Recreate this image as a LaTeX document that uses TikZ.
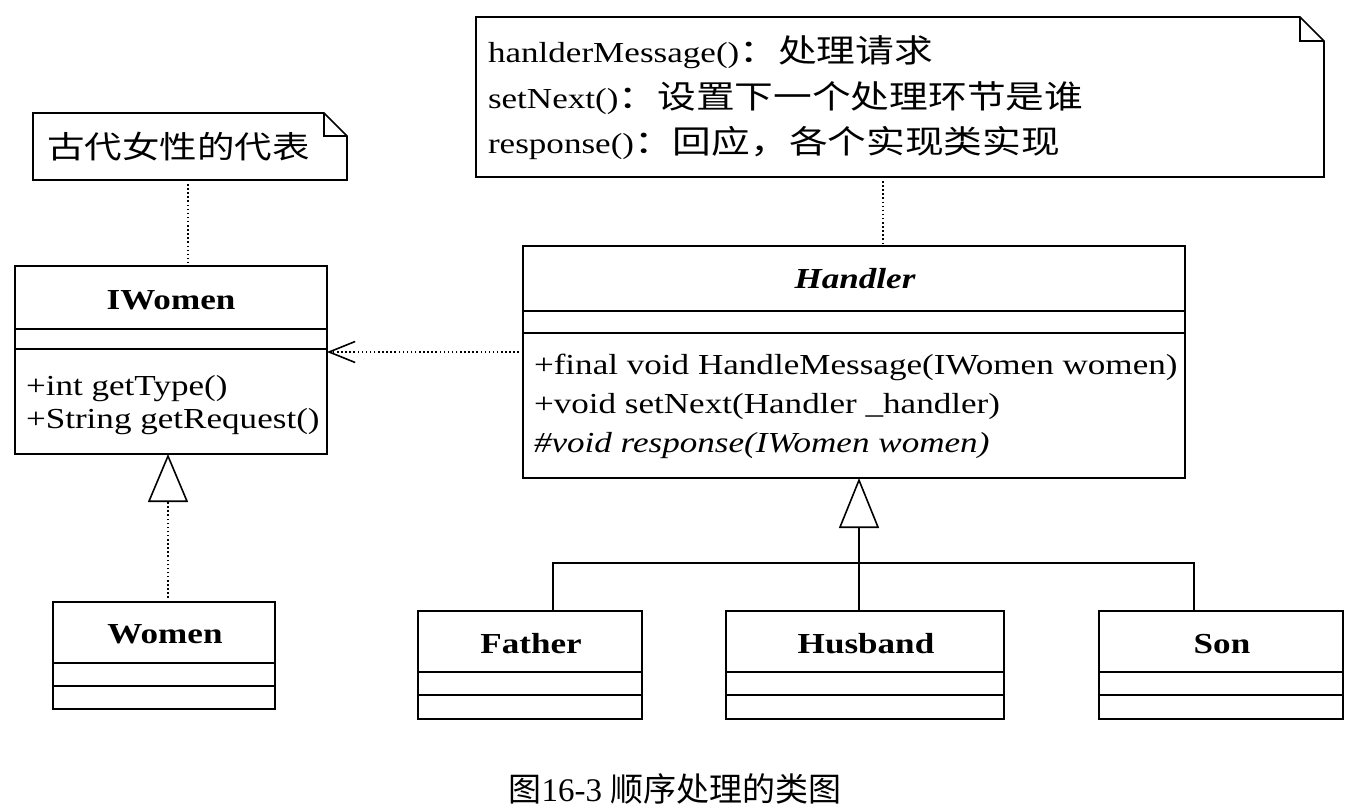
\documentclass[tikz,border=0pt]{standalone}
\usepackage{fontspec}
\setmainfont[FakeStretch=1.21]{Liberation Serif}
\newfontfamily\cjk[FakeStretch=1.21]{Noto Sans CJK SC}
\newfontfamily\capcjk{Noto Sans CJK SC}
\newfontfamily\capserif{Liberation Serif}
\usetikzlibrary{arrows.meta}

% Chinese text inside the diagram
\newcommand{\zh}[1]{{\fontsize{31}{34}\cjk #1}}
\newcommand{\zhn}[1]{{\fontsize{32}{34}\cjk #1}}

\tikzset{
  umlline/.style={line width=1.6pt, draw=black},
  classbox/.style={draw=black, line width=1.6pt, rectangle, inner sep=0pt, outer sep=0pt, anchor=north west},
  noteframe/.style={inner sep=0pt, outer sep=0pt, anchor=north west},
  txt/.style={inner sep=0pt, outer sep=0pt, font=\fontsize{29}{34}\selectfont},
  titletxt/.style={txt, font=\fontsize{29}{34}\selectfont\bfseries},
  dottedlink/.style={line width=1.5pt, dash pattern=on 1.5pt off 2.6pt},
  hollowtri/.style={-{Triangle[open, length=#1, width=40pt, line width=1.6pt]}},
  openbarb/.style={-{Straight Barb[length=26pt, width=21pt, line width=1.6pt]}}
}

% class box: name, x1, y1, x2, y2, first separator, second separator
\newcommand{\umlbox}[7]{%
  \node[classbox, minimum width={#4-#2}, minimum height={#5-#3}] (#1) at (#2,#3) {};
  \draw[umlline] (#2,#6) -- (#4,#6);
  \draw[umlline] (#2,#7) -- (#4,#7);
}

% note with folded corner: name, x1, y1, x2, y2, fold size
\newcommand{\umlnote}[6]{%
  \node[noteframe, minimum width={#4-#2}, minimum height={#5-#3}] (#1) at (#2,#3) {};
  \draw[umlline, line join=miter] (#2,#3) -- ({#4-#6},#3) -- (#4,{#3+#6}) -- (#4,#5) -- (#2,#5) -- cycle;
  \draw[umlline] ({#4-#6},#3) -- ({#4-#6},{#3+#6}) -- (#4,{#3+#6});
}

\begin{document}
\begin{tikzpicture}[x=1pt, y=-1pt]
\useasboundingbox (0,0) rectangle (1360,810);

% ---- notes ----
\umlnote{note1}{33}{113}{347}{180}{23}
\node[inner sep=0pt, anchor=west] (note1txt) at (47,147) {\zh{古代女性的代表}};

\umlnote{note2}{476}{17}{1324}{177}{24}
\node[txt, anchor=base west] (n2l1) at (488,63) {hanlderMessage()\zhn{：处理请求}};
\node[txt, anchor=base west] (n2l2) at (488,109) {setNext()\zhn{：设置下一个处理环节是谁}};
\node[txt, anchor=base west] (n2l3) at (488,154) {response()\zhn{：回应，各个实现类实现}};

% ---- IWomen / Women ----
\umlbox{iwomen}{15}{266}{327}{454}{329}{349}
\node[titletxt, anchor=base] (iwomentitle) at (171,309) {IWomen};
\node[txt, anchor=base west] (iwm1) at (26,395) {+int getType()};
\node[txt, anchor=base west] (iwm2) at (26,428) {+String getRequest()};

\umlbox{women}{53}{602}{275}{709}{663}{686}
\node[titletxt, anchor=base] (womentitle) at (165,643) {Women};

% ---- Handler ----
\umlbox{handler}{523}{246}{1185}{478}{311}{333}
\node[titletxt, font=\fontsize{29}{34}\selectfont\bfseries\itshape, anchor=base] (handlertitle) at (855,289) {Handler};
\node[txt, anchor=base west] (hm1) at (534,374) {+final void HandleMessage(IWomen women)};
\node[txt, anchor=base west] (hm2) at (534,413) {+void setNext(Handler \_handler)};
\node[txt, font=\fontsize{29}{34}\selectfont\itshape, anchor=base west] (hm3) at (534,452) {\#void response(IWomen women)};

% ---- concrete handlers ----
\umlbox{father}{418}{611}{642}{719}{672}{695}
\node[titletxt, anchor=base] (fathertitle) at (531,653) {Father};
\umlbox{husband}{726}{611}{1004}{719}{672}{695}
\node[titletxt, anchor=base] (husbandtitle) at (866,653) {Husband};
\umlbox{son}{1099}{611}{1343}{719}{672}{695}
\node[titletxt, anchor=base] (sontitle) at (1222,653) {Son};

% ---- connectors ----
\coordinate (n1x) at (188,0);
\coordinate (n2x) at (883,0);
\coordinate (depy) at (0,352);
\coordinate (realx) at (168,0);
\coordinate (trunk) at (859,563);
\coordinate (fbr) at (553,563);
\coordinate (sbr) at (1194,563);

\draw[dottedlink] (note1.south -| n1x) -- (iwomen.north -| n1x);
\draw[dottedlink] (note2.south -| n2x) -- (handler.north -| n2x);
\draw[dottedlink, openbarb] (handler.west |- depy) -- (iwomen.east |- depy);
\draw[dottedlink, hollowtri=48pt] (women.north -| realx) -- (iwomen.south -| realx);
\draw[umlline, hollowtri=50pt] (husband.north -| trunk) -- (handler.south -| trunk);
\draw[umlline] (father.north -| fbr) |- (sbr) -- (son.north -| sbr);

% ---- caption ----
\node[inner sep=0pt] (caption) at (675,789) {\fontsize{33}{36}\capcjk 图\capserif 16-3 \capcjk 顺序处理的类图};
\end{tikzpicture}
\end{document}
